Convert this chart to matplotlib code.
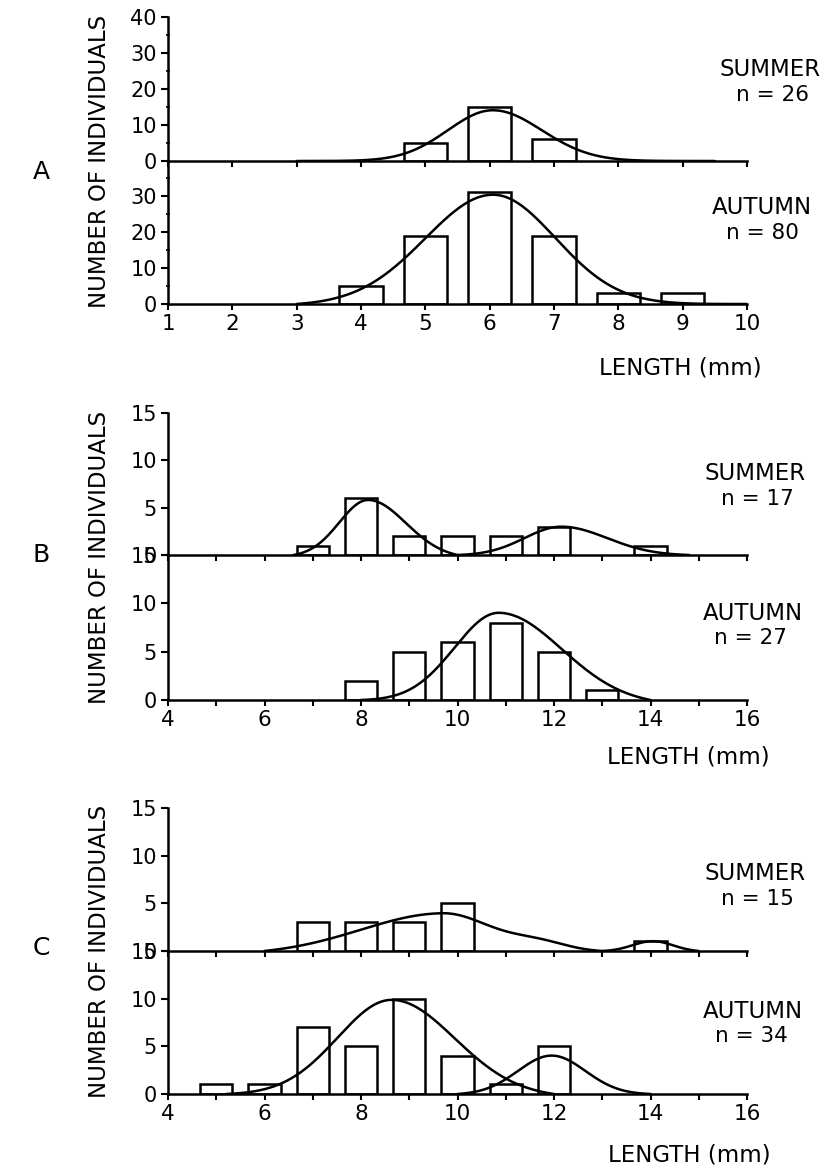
import numpy as np
import matplotlib
matplotlib.use("Agg")
import matplotlib.pyplot as plt
from matplotlib.ticker import MultipleLocator

# ---------------- data ----------------
# Panel A
a_summer_x = [5, 6, 7]
a_summer_n = [5, 15, 6]
a_autumn_x = [4, 5, 6, 7, 8, 9]
a_autumn_n = [5, 19, 31, 19, 3, 3]
# Panel B
b_summer_x = [7, 8, 9, 10, 11, 12, 14]
b_summer_n = [1, 6, 2, 2, 2, 3, 1]
b_autumn_x = [8, 9, 10, 11, 12, 13]
b_autumn_n = [2, 5, 6, 8, 5, 1]
# Panel C
c_summer_x = [7, 8, 9, 10, 14]
c_summer_n = [3, 3, 3, 5, 1]
c_autumn_x = [5, 6, 7, 8, 9, 10, 11, 12]
c_autumn_n = [1, 1, 7, 5, 10, 4, 1, 5]

# fitted curves: segments (x_start, x_end, components [(peak, mean, sd_left, sd_right)])
a_summer_fit = [(3.0, 9.5, [(14.1, 6.05, 0.70, 0.76)])]
a_autumn_fit = [(3.0, 10.0, [(30.6, 6.05, 1.05, 0.97)])]
b_summer_fit = [(6.6, 10.0, [(6.1, 8.15, 0.60, 0.78)]),
                (10.0, 14.8, [(3.05, 12.15, 0.76, 0.95)])]
b_autumn_fit = [(8.0, 14.0, [(9.3, 10.86, 0.92, 1.30)])]
c_summer_fit = [(6.0, 13.0, [(4.2, 9.7, 1.7, 1.0), (0.9, 11.7, 0.6, 0.6)]),
                (13.0, 15.0, [(1.1, 14.05, 0.42, 0.42)])]
c_autumn_fit = [(5.2, 12.0, [(10.1, 8.64, 1.12, 1.30)]),
                (10.0, 14.0, [(4.1, 11.95, 0.70, 0.70)])]

panel_letters = ["A", "B", "C"]
season_labels = ["SUMMER", "AUTUMN"]
a_counts = ["n = 26", "n = 80"]
b_counts = ["n = 17", "n = 27"]
c_counts = ["n = 15", "n = 34"]
x_title = "LENGTH (mm)"
y_title = "NUMBER OF INDIVIDUALS"

# ---------------- figure ----------------
W, H = 825, 1169
plt.rcParams["font.family"] = ["DejaVu Sans"]
fig = plt.figure(figsize=(W / 100, H / 100), dpi=100)

LW = 1.8


def rect(x0, x1, ytop, ybot):
    return [x0 / W, 1 - ybot / H, (x1 - x0) / W, (ybot - ytop) / H]


def fx(px):
    return px / W


def fy(py):
    return 1 - py / H


def curve(seg):
    x0, x1, comps = seg
    xs = np.linspace(x0, x1, 300)

    def g(x):
        x = np.asarray(x, dtype=float)
        tot = np.zeros_like(x)
        for amp, mu, sl, sr in comps:
            sd = np.where(x < mu, sl, sr)
            tot = tot + amp * np.exp(-0.5 * ((x - mu) / sd) ** 2)
        return tot

    ys = g(xs)
    y0, y1 = g(np.array([x0]))[0], g(np.array([x1]))[0]
    ys = ys - (y0 + (y1 - y0) * (xs - x0) / (x1 - x0))
    return xs, np.clip(ys, 0, None)


def style(ax, xlim, ylim, xmaj, xmin_, ymaj, ymin_, showx):
    ax.set_xlim(*xlim)
    ax.set_ylim(*ylim)
    ax.patch.set_alpha(0)
    for s in ["top", "right"]:
        ax.spines[s].set_visible(False)
    for s in ["left", "bottom"]:
        ax.spines[s].set_linewidth(LW)
    ax.xaxis.set_major_locator(MultipleLocator(xmaj))
    ax.xaxis.set_minor_locator(MultipleLocator(xmin_))
    ax.yaxis.set_major_locator(MultipleLocator(ymaj))
    if ymin_:
        ax.yaxis.set_minor_locator(MultipleLocator(ymin_))
    else:
        ax.yaxis.set_minor_locator(plt.NullLocator())
    ax.tick_params(axis="x", which="both", direction="out", length=4, width=1.5,
                   labelsize=15.5, pad=3.5, labelbottom=showx)
    ax.tick_params(axis="y", which="major", direction="out", length=5, width=1.5,
                   labelsize=15, pad=3)
    ax.tick_params(axis="y", which="minor", direction="inout", length=3, width=1.2)


def draw(ax, xs, ns, fit):
    ax.bar(xs, ns, width=0.67, facecolor="white", edgecolor="black",
           linewidth=LW, zorder=2)
    for seg in fit:
        cx, cy = curve(seg)
        ax.plot(cx, cy, color="black", lw=LW, zorder=3, solid_capstyle="round")


panels = [
    dict(top=(17, 161), bot=(161, 304), xlim=(1, 10), ylim_top=(0, 40), ylim_bot=(0, 39.7),
         xmaj=1, xmin=1, ymaj=10, ymin=5,
         s=(a_summer_x, a_summer_n, a_summer_fit), a=(a_autumn_x, a_autumn_n, a_autumn_fit),
         counts=a_counts, letter_y=172, ylab_y=161, xlab=(680, 368),
         lab=[(770, 69), (772, 95), (762, 207), (762, 233)]),
    dict(top=(413, 555), bot=(555, 700), xlim=(4, 16), ylim_top=(0, 15), ylim_bot=(0, 15),
         xmaj=2, xmin=1, ymaj=5, ymin=None,
         s=(b_summer_x, b_summer_n, b_summer_fit), a=(b_autumn_x, b_autumn_n, b_autumn_fit),
         counts=b_counts, letter_y=555, ylab_y=557, xlab=(688, 757),
         lab=[(755, 474), (757, 499), (753, 614), (751, 638)]),
    dict(top=(808, 951), bot=(951, 1094), xlim=(4, 16), ylim_top=(0, 15), ylim_bot=(0, 15),
         xmaj=2, xmin=1, ymaj=5, ymin=None,
         s=(c_summer_x, c_summer_n, c_summer_fit), a=(c_autumn_x, c_autumn_n, c_autumn_fit),
         counts=c_counts, letter_y=948, ylab_y=951, xlab=(689, 1155),
         lab=[(755, 874), (757, 899), (753, 1012), (751, 1036)]),
]

X0, X1 = 168, 747
for letter, p in zip(panel_letters, panels):
    axt = fig.add_axes(rect(X0, X1, *p["top"]))
    axb = fig.add_axes(rect(X0, X1, *p["bot"]))
    style(axt, p["xlim"], p["ylim_top"], p["xmaj"], p["xmin"], p["ymaj"], p["ymin"], False)
    style(axb, p["xlim"], p["ylim_bot"], p["xmaj"], p["xmin"], p["ymaj"], p["ymin"], True)
    draw(axt, *p["s"])
    draw(axb, *p["a"])

    fig.text(fx(41), fy(p["letter_y"]), letter, fontsize=18, ha="center", va="center")
    fig.text(fx(100), fy(p["ylab_y"]), y_title, fontsize=16.5, rotation=90,
             ha="center", va="center")
    fig.text(fx(p["xlab"][0]), fy(p["xlab"][1]), x_title, fontsize=16.5,
             ha="center", va="center")
    (sx, sy), (nx, ny), (ax_, ay), (mx, my) = p["lab"]
    fig.text(fx(sx), fy(sy), season_labels[0], fontsize=16.5, ha="center", va="center")
    fig.text(fx(nx), fy(ny), p["counts"][0], fontsize=15.5, ha="center", va="center")
    fig.text(fx(ax_), fy(ay), season_labels[1], fontsize=16.5, ha="center", va="center")
    fig.text(fx(mx), fy(my), p["counts"][1], fontsize=15.5, ha="center", va="center")

fig.savefig("out.png", dpi=100, facecolor="white")
